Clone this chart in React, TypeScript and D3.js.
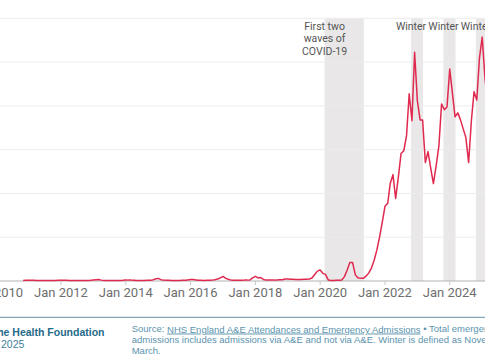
import * as d3 from "d3";

// 12-hour waits as % of total emergency admissions, monthly from Nov 2010
const firstMonth = new Date(2010, 10, 1);
const waitShare = [
  // 2010 (Nov, Dec)
  0.02, 0.03,
  // 2011
  0.04, 0.03, 0.03, 0.02, 0.02, 0.02, 0.02, 0.02, 0.02, 0.02, 0.02, 0.03,
  // 2012
  0.04, 0.03, 0.03, 0.02, 0.02, 0.02, 0.02, 0.02, 0.02, 0.02, 0.02, 0.03,
  // 2013
  0.05, 0.06, 0.07, 0.04, 0.02, 0.02, 0.02, 0.02, 0.02, 0.02, 0.02, 0.03,
  // 2014
  0.05, 0.04, 0.04, 0.03, 0.02, 0.02, 0.02, 0.02, 0.03, 0.03, 0.05, 0.09,
  // 2015
  0.12, 0.06, 0.04, 0.03, 0.03, 0.02, 0.02, 0.02, 0.02, 0.03, 0.03, 0.05,
  // 2016
  0.07, 0.07, 0.05, 0.03, 0.03, 0.02, 0.03, 0.03, 0.04, 0.06, 0.09, 0.14,
  // 2017
  0.21, 0.12, 0.08, 0.04, 0.03, 0.03, 0.03, 0.03, 0.04, 0.04, 0.05, 0.14,
  // 2018
  0.21, 0.14, 0.16, 0.07, 0.04, 0.04, 0.04, 0.04, 0.05, 0.06, 0.06, 0.09,
  // 2019
  0.09, 0.08, 0.08, 0.07, 0.07, 0.07, 0.08, 0.08, 0.09, 0.14, 0.3, 0.45,
  // 2020
  0.5, 0.35, 0.3, 0.05, 0.02, 0.02, 0.03, 0.03, 0.05, 0.2, 0.5, 0.84,
  // 2021
  0.84, 0.28, 0.15, 0.12, 0.12, 0.22, 0.36, 0.59, 0.95, 1.41, 2.0, 2.68,
  // 2022
  3.41, 3.55, 4.45, 4.86, 3.77, 4.75, 5.82, 5.95, 6.64, 8.55, 7.32, 10.45,
  // 2023
  8.23, 7.36, 7.36, 5.41, 5.91, 5.14, 4.45, 5.27, 6.18, 8.09, 7.82, 7.95,
  // 2024
  9.68, 8.55, 7.5, 7.68, 7.36, 6.95, 6.55, 5.41, 7.32, 8.64, 8.27, 10.18,
  // 2025
  11.14, 9.27, 8.2,
];

const tickYears = [2010, 2012, 2014, 2016, 2018, 2020, 2022, 2024];
const gridValues = [2, 4, 6, 8, 10, 12];

const periods = [
  { label: ["First two", "waves of", "COVID-19"], start: "2020-02-20", end: "2021-05-07" },
  { label: ["Winter"], start: "2022-10-22", end: "2023-03-06" },
  { label: ["Winter"], start: "2023-10-22", end: "2024-03-06" },
  { label: ["Winter"], start: "2024-10-22", end: "2025-03-06" },
];

const W = 485;
const H = 360;
const FONT = "Roboto, 'Liberation Sans', Arial, sans-serif";
const FOOT_FONT = "'Liberation Sans', Arial, sans-serif";

export default function App() {
  const x = d3
    .scaleTime()
    .domain([new Date(2010, 0, 1), new Date(2025, 0, 1)])
    .range([-3.8, 482.2]);
  const y = d3.scaleLinear().domain([0, 12]).range([281, 18.3]);

  const points = waitShare.map((v, i) => ({
    date: d3.timeMonth.offset(firstMonth, i),
    value: v,
  }));

  const line = d3
    .line<{ date: Date; value: number }>()
    .x((d) => x(d.date))
    .y((d) => y(d.value));

  const parse = d3.timeParse("%Y-%m-%d");
  const fmt = d3.timeFormat("Jan %Y");

  return (
    <svg
      width={W}
      height={H}
      style={{ position: "absolute", left: 0, top: 0, background: "#fff" }}
      fontFamily={FONT}
    >
      {/* shaded periods */}
      {periods.map((p, i) => {
        const x0 = x(parse(p.start)!);
        const x1 = x(parse(p.end)!);
        return (
          <rect
            key={i}
            x={x0}
            y={y(12)}
            width={x1 - x0}
            height={y(0) - y(12)}
            fill="#e9e7e7"
          />
        );
      })}

      {/* gridlines */}
      {gridValues.map((v) => (
        <line key={v} x1={0} x2={W} y1={y(v)} y2={y(v)} stroke="#ececec" strokeWidth={1} />
      ))}

      {/* x axis */}
      <line x1={0} x2={W} y1={y(0)} y2={y(0)} stroke="#b3b3b3" strokeWidth={1} />
      {tickYears.map((yr) => {
        const d = new Date(yr, 0, 1);
        const tx = x(d);
        return (
          <g key={yr}>
            <line x1={tx} x2={tx} y1={y(0)} y2={y(0) + 4} stroke="#c8c8c8" />
            <text
              x={tx}
              y={294}
              textAnchor="middle"
              dominantBaseline="middle"
              fontSize={13}
              fill="#6e6e6e"
            >
              {fmt(d)}
            </text>
          </g>
        );
      })}

      {/* series */}
      <path
        d={line(points) ?? ""}
        fill="none"
        stroke="#e0294f"
        strokeWidth={1.5}
        strokeLinejoin="round"
      />

      {/* period labels */}
      {periods.map((p, i) => (
        <text
          key={i}
          x={x(parse(p.start)!)}
          y={27.5}
          textAnchor="middle"
          fontSize={10.5}
          fill="#555"
        >
          {p.label.map((l, j) => (
            <tspan key={j} x={x(parse(p.start)!)} dy={j === 0 ? 0 : 12.2} dominantBaseline="middle">
              {l}
            </tspan>
          ))}
        </text>
      ))}

      {/* footer */}
      <line x1={0} x2={W} y1={317.3} y2={317.3} stroke="#6693a8" strokeWidth={1} />
      <g fontFamily={FOOT_FONT}>
        <text x={104.5} y={333} textAnchor="end" dominantBaseline="middle" fontSize={10.5} fontWeight="bold" fill="#1f6b8a">
          The Health Foundation
        </text>
        <text x={24.3} y={345.5} textAnchor="end" dominantBaseline="middle" fontSize={10.5} fill="#3f7f9b">
          © 2025
        </text>
        <g fontSize={9.5} fill="#5b93ae">
          <text x={131.7} y={329.5} dominantBaseline="middle">
            Source:{" "}
            <tspan style={{ textDecoration: "underline" }}>
              NHS England A&amp;E Attendances and Emergency Admissions
            </tspan>{" "}
            • Total emergency
          </text>
          <text x={131.7} y={340.3} dominantBaseline="middle">
            admissions includes admissions via A&amp;E and not via A&amp;E. Winter is defined as November to
          </text>
          <text x={131.7} y={351} dominantBaseline="middle">
            March.
          </text>
        </g>
      </g>
    </svg>
  );
}
